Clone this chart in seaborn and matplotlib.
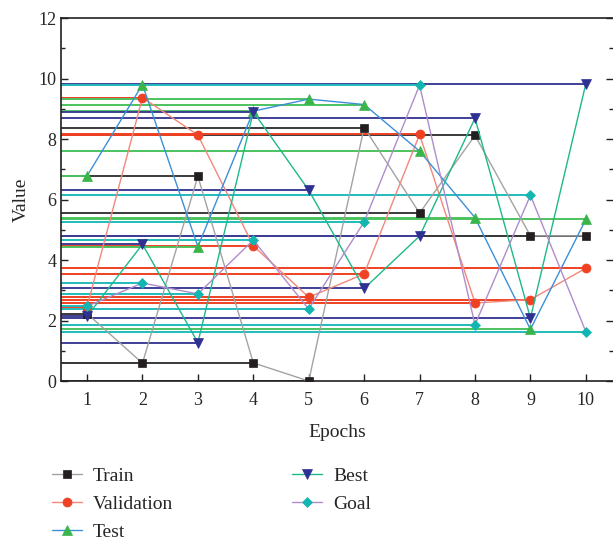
import matplotlib
matplotlib.use("Agg")
import matplotlib.pyplot as plt
import seaborn as sns
import numpy as np
from matplotlib.ticker import MultipleLocator

epochs = [1, 2, 3, 4, 5, 6, 7, 8, 9, 10]
train = [2.23, 0.59, 6.77, 0.60, 0.0, 8.38, 5.55, 8.12, 4.80, 4.80]
validation = [2.45, 9.37, 8.13, 4.47, 2.77, 3.54, 8.15, 2.58, 2.69, 3.73]
test = [6.78, 9.80, 4.44, 8.92, 9.32, 9.14, 7.60, 5.40, 1.71, 5.34]
best = [2.14, 4.52, 1.27, 8.90, 6.31, 3.06, 4.79, 8.69, 2.08, 9.83]
goal = [2.47, 3.24, 2.88, 4.66, 2.38, 5.26, 9.78, 1.86, 6.14, 1.63]

names = ["Train", "Validation", "Test", "Best", "Goal"]
series = [train, validation, test, best, goal]
line_colors = ["#a3a3a3", "#f2877a", "#3d8fd8", "#1db98b", "#b08ccc"]
marker_colors = ["#231f20", "#ef4123", "#39b54a", "#2e3192", "#12b5b0"]
hline_colors = ["#3a3a3a", "#ef4123", "#4cc25e", "#3f3f96", "#22bcbc"]
markers = ["s", "o", "^", "v", "D"]
msizes = [6, 6.5, 7, 7, 5.5]

sns.set_style("ticks")
plt.rcParams["font.family"] = ["Liberation Serif", "DejaVu Serif"]
plt.rcParams["font.size"] = 13

fig = plt.figure(figsize=(6.13, 5.41), dpi=100)
ax = fig.add_axes([0.0995, 0.2957, 0.9005, 0.671])
xmin, xmax = 0.53, 10.49

for name, vals, lc, mc, hc, mk, ms in zip(names, series, line_colors, marker_colors,
                                          hline_colors, markers, msizes):
    ax.hlines(vals, xmin, epochs, colors=hc, linewidth=1.4, zorder=1)
for name, vals, lc, mc, hc, mk, ms in zip(names, series, line_colors, marker_colors,
                                          hline_colors, markers, msizes):
    sns.lineplot(x=epochs, y=vals, ax=ax, color=lc, linewidth=1.0, marker=mk,
                 markersize=ms, markerfacecolor=mc, markeredgecolor=mc,
                 markeredgewidth=0.5, label=name, zorder=3)

ax.set_xlim(xmin, xmax)
ax.set_ylim(0, 12)
ax.set_xticks(epochs)
ax.yaxis.set_major_locator(MultipleLocator(2))
ax.yaxis.set_minor_locator(MultipleLocator(1))
ax.tick_params(axis="both", which="both", direction="in", labelsize=13, color="#231f20")
ax.tick_params(axis="y", which="both", right=True)
ax.tick_params(axis="y", which="major", length=5, width=1)
ax.tick_params(axis="y", which="minor", length=3, width=1)
ax.tick_params(axis="x", which="major", length=5, width=1, top=False, pad=8)
for s in ["left", "bottom", "top"]:
    ax.spines[s].set_visible(True)
    ax.spines[s].set_linewidth(1.2)
    ax.spines[s].set_color("#231f20")
ax.spines["right"].set_visible(False)

ax.set_xlabel("Epochs", fontsize=14, labelpad=11)
ax.set_ylabel("Value", fontsize=14, labelpad=6)

handles, labels = ax.get_legend_handles_labels()
ax.get_legend().remove()
fig.legend(handles, labels, loc="upper left", bbox_to_anchor=(0.056, 0.168),
           ncol=2, frameon=False, fontsize=14, handlelength=1.55,
           handletextpad=0.57, columnspacing=6.1, labelspacing=0.53)

fig.savefig("out.png", dpi=100)
